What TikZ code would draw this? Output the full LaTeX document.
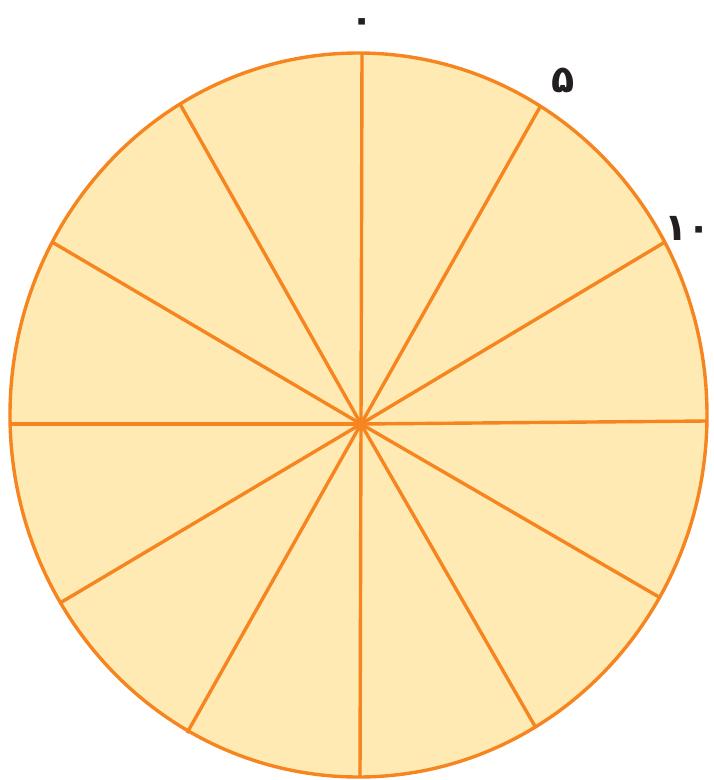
\documentclass[tikz,border=0pt]{standalone}
\usepackage{fontspec}
\newfontfamily\arabicfont[Script=Arabic,BoldFont=DejaVu Sans Bold]{DejaVu Sans}
\definecolor{pieor}{HTML}{F6851F}
\definecolor{piefill}{HTML}{FFEAB3}
\definecolor{labcol}{HTML}{231F20}
\begin{document}
\begin{tikzpicture}[x=1pt,y=-1pt,
  spoke/.style={draw=pieor,line width=3.4pt},
  lab/.style={text=labcol,font=\arabicfont\bfseries\fontsize{38}{38}\selectfont,inner sep=0pt}]
\useasboundingbox (0,0) rectangle (713,780);
\filldraw[fill=piefill,draw=pieor,line width=3.4pt] (358.5,415) ellipse [x radius=348.5,y radius=362];
\coordinate (c) at (361,424);
\foreach \n/\p in {t/{362,53},b/{360,777},l/{10,424},r/{707,421},a/{180,104},b2/{540,107},d/{52,242},e/{665,242},f/{60,603},g/{659,597},h/{187,733},i/{536,728}}{
  \coordinate (\n) at (\p);
  \draw[spoke] (c) -- (\n);
}
\node[lab] (z) at (362,26) {۰};
\node[lab] (f5) at (563,80) {۵};
\node[lab] (t10) at (688,228) {۱۰};
\end{tikzpicture}
\end{document}
